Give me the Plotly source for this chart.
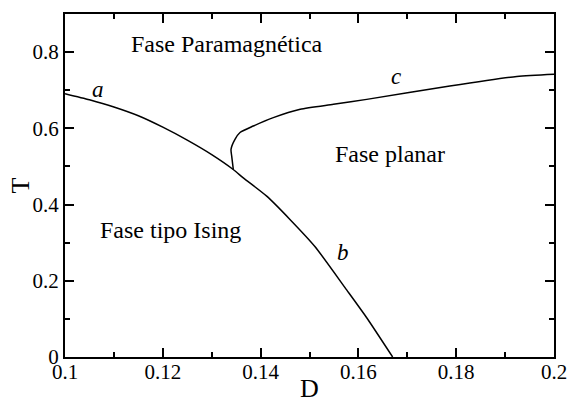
import plotly.graph_objects as go

# Phase boundaries in the (D, T) plane
line_a_D = [0.1, 0.105, 0.11, 0.115, 0.12, 0.125, 0.13, 0.1344]
line_a_T = [0.691, 0.675, 0.656, 0.633, 0.603, 0.569, 0.531, 0.492]

line_b_D = [0.1344, 0.13646, 0.14125, 0.1460, 0.1511, 0.1576, 0.1617, 0.1670]
line_b_T = [0.492, 0.470, 0.422, 0.361, 0.290, 0.176, 0.103, 0.0]

line_c_D = [0.13442, 0.13409, 0.13395, 0.13476, 0.13579, 0.13851, 0.1426,
            0.1481, 0.1549, 0.1617, 0.1787, 0.1924, 0.2]
line_c_T = [0.492, 0.527, 0.545, 0.571, 0.589, 0.606, 0.628,
            0.650, 0.663, 0.676, 0.711, 0.736, 0.742]

# Region names and curve letters
region_text = ["Fase Paramagnética", "Fase planar", "Fase tipo Ising"]
region_D = [0.1331, 0.1665, 0.1215]
region_T = [0.821, 0.532, 0.332]

letter_text = ["a", "b", "c"]
letter_D = [0.1068, 0.1568, 0.1677]
letter_T = [0.703, 0.274, 0.737]

FONT = "Liberation Serif"

fig = go.Figure()
for xs, ys in [(line_a_D + line_b_D[1:], line_a_T + line_b_T[1:]), (line_c_D, line_c_T)]:
    fig.add_trace(go.Scatter(
        x=xs, y=ys, mode="lines",
        line=dict(color="black", width=1.5, shape="spline", smoothing=0.6),
        showlegend=False, hoverinfo="skip",
    ))

for t, x, y in zip(region_text, region_D, region_T):
    fig.add_annotation(x=x, y=y, text=t, showarrow=False,
                       font=dict(family=FONT, size=24, color="black"))
for t, x, y in zip(letter_text, letter_D, letter_T):
    fig.add_annotation(x=x, y=y, text=f"<i>{t}</i>", showarrow=False,
                       font=dict(family=FONT, size=23, color="black"))

# Axis titles
fig.add_annotation(x=0.5, y=0, xref="paper", yref="paper", text="D",
                   showarrow=False, yanchor="top", yshift=-15,
                   font=dict(family=FONT, size=26, color="black"))
fig.add_annotation(x=-0.092, y=0.5, xref="paper", yref="paper", text="T",
                   showarrow=False, textangle=-90, xanchor="center",
                   font=dict(family=FONT, size=26, color="black"))

axis_common = dict(
    showline=True, linecolor="black", linewidth=2, mirror="allticks",
    ticks="inside", ticklen=9, tickwidth=1.5, tickcolor="black",
    showgrid=False, zeroline=False, automargin=False,
    tickfont=dict(family=FONT, size=21, color="black"),
)

fig.update_xaxes(
    range=[0.1, 0.2],
    tickvals=[0.1, 0.12, 0.14, 0.16, 0.18, 0.2],
    ticktext=["0.1", "0.12", "0.14", "0.16", "0.18", "0.2"],
    minor=dict(ticks="inside", ticklen=5, tickwidth=1.5, tickcolor="black",
               tickvals=[0.11, 0.13, 0.15, 0.17, 0.19]),
    ticklabelstandoff=-5,
    **axis_common,
)
fig.update_yaxes(
    range=[0, 0.9],
    tickvals=[0, 0.2, 0.4, 0.6, 0.8],
    ticktext=["0", "0.2", "0.4", "0.6", "0.8"],
    minor=dict(ticks="inside", ticklen=5, tickwidth=1.5, tickcolor="black",
               tickvals=[0.1, 0.3, 0.5, 0.7]),
    **axis_common,
)

fig.update_layout(
    width=568, height=399,
    margin=dict(l=65, r=14, t=14, b=42),
    paper_bgcolor="white", plot_bgcolor="white",
)

fig.write_html("out.html")
